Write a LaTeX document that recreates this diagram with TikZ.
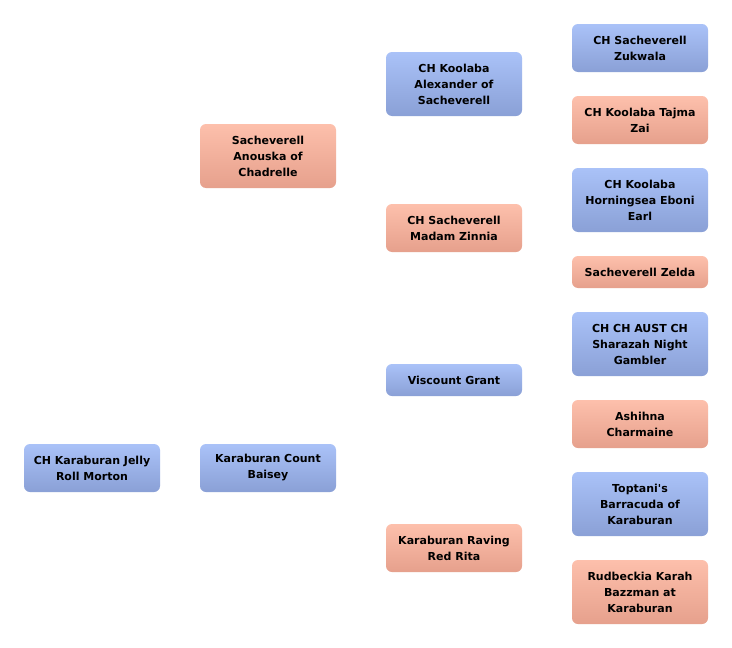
\documentclass[tikz,border=0pt]{standalone}
\usepackage{fontspec}
\setmainfont{DejaVu Sans}[Ligatures=TeXOff]
\definecolor{blueTop}{RGB}{170,194,248}
\definecolor{blueBot}{RGB}{138,160,214}
\definecolor{pinkTop}{RGB}{253,192,172}
\definecolor{pinkBot}{RGB}{230,160,140}
\begin{document}
\begin{tikzpicture}[x=1pt,y=-1pt,
dog/.style={rounded corners=6pt, minimum width=136pt, inner sep=0pt, align=center,
  font=\bfseries\fontsize{11}{16}\selectfont},
sire/.style={dog, top color=blueTop, bottom color=blueBot},
dam/.style={dog, top color=pinkTop, bottom color=pinkBot},
one/.style={minimum height=32pt},
two/.style={minimum height=48pt},
three/.style={minimum height=64pt}]
\useasboundingbox[fill=white] (0,0) rectangle (732,648);
\node[sire,two] (jelly) at (92,468) {CH Karaburan Jelly\\Roll Morton};
\begin{scope}
\node[dam,three] (anouska) at (268,156) {Sacheverell\\Anouska of\\Chadrelle};
\node[sire,two] (baisey) at (268,468) {Karaburan Count\\Baisey};
\end{scope}
\begin{scope}
\node[sire,three] (alexander) at (454,84) {CH Koolaba\\Alexander of\\Sacheverell};
\node[dam,two] (zinnia) at (454,228) {CH Sacheverell\\Madam Zinnia};
\node[sire,one] (viscount) at (454,380) {Viscount Grant};
\node[dam,two] (rita) at (454,548) {Karaburan Raving\\Red Rita};
\end{scope}
\begin{scope}
\node[sire,two] (zukwala) at (640,48) {CH Sacheverell\\Zukwala};
\node[dam,two] (tajma) at (640,120) {CH Koolaba Tajma\\Zai};
\node[sire,three] (eboni) at (640,200) {CH Koolaba\\Horningsea Eboni\\Earl};
\node[dam,one] (zelda) at (640,272) {Sacheverell Zelda};
\node[sire,three] (gambler) at (640,344) {CH CH AUST CH\\Sharazah Night\\Gambler};
\node[dam,two] (charmaine) at (640,424) {Ashihna\\Charmaine};
\node[sire,three] (barracuda) at (640,504) {Toptani's\\Barracuda of\\Karaburan};
\node[dam,three] (bazzman) at (640,592) {Rudbeckia Karah\\Bazzman at\\Karaburan};
\end{scope}
\end{tikzpicture}
\end{document}
